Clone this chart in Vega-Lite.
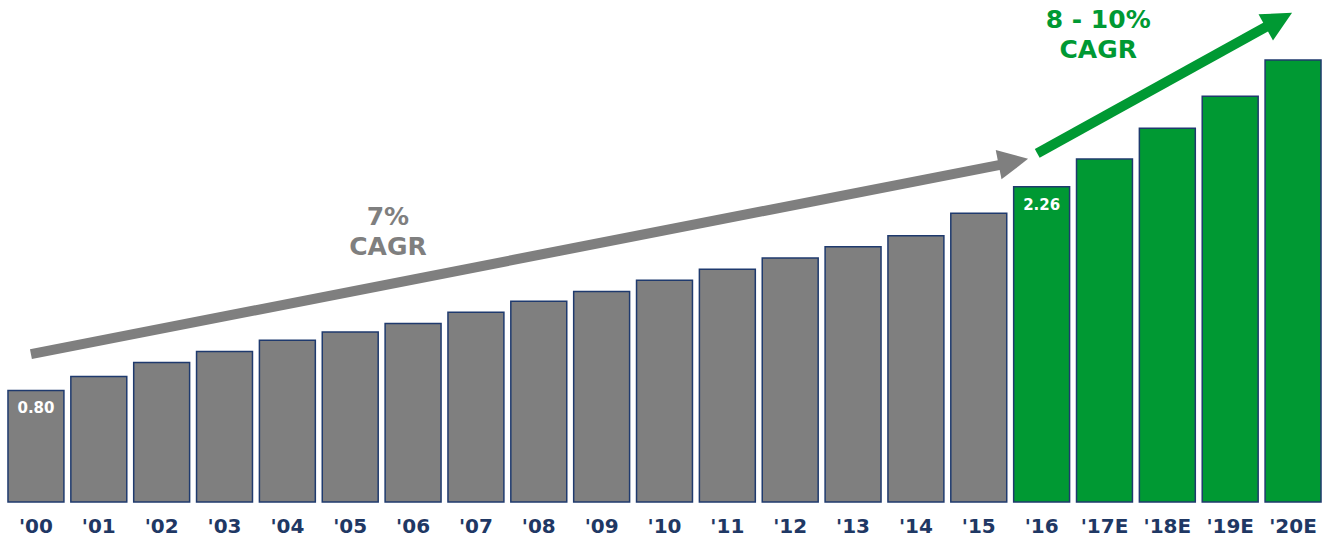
{
  "$schema": "https://vega.github.io/schema/vega-lite/v6.json",
  "width": 1329,
  "height": 502,
  "autosize": "none",
  "padding": {"left": 0, "top": 0, "right": 0, "bottom": 42},
  "background": "white",
  "config": {"view": {"stroke": null}, "font": "DejaVu Sans"},
  "layer": [
    {
      "data": {
        "values": [
          {"year": "'00", "value": 0.80, "phase": "actual"},
          {"year": "'01", "value": 0.90, "phase": "actual"},
          {"year": "'02", "value": 1.00, "phase": "actual"},
          {"year": "'03", "value": 1.08, "phase": "actual"},
          {"year": "'04", "value": 1.16, "phase": "actual"},
          {"year": "'05", "value": 1.22, "phase": "actual"},
          {"year": "'06", "value": 1.28, "phase": "actual"},
          {"year": "'07", "value": 1.36, "phase": "actual"},
          {"year": "'08", "value": 1.44, "phase": "actual"},
          {"year": "'09", "value": 1.51, "phase": "actual"},
          {"year": "'10", "value": 1.59, "phase": "actual"},
          {"year": "'11", "value": 1.67, "phase": "actual"},
          {"year": "'12", "value": 1.75, "phase": "actual"},
          {"year": "'13", "value": 1.83, "phase": "actual"},
          {"year": "'14", "value": 1.91, "phase": "actual"},
          {"year": "'15", "value": 2.07, "phase": "actual"},
          {"year": "'16", "value": 2.26, "phase": "forecast"},
          {"year": "'17E", "value": 2.46, "phase": "forecast"},
          {"year": "'18E", "value": 2.68, "phase": "forecast"},
          {"year": "'19E", "value": 2.91, "phase": "forecast"},
          {"year": "'20E", "value": 3.17, "phase": "forecast"}
        ]
      },
      "encoding": {
        "x": {
          "field": "year",
          "type": "nominal",
          "sort": null,
          "scale": {"paddingInner": 0.11, "paddingOuter": 0.127},
          "axis": {
            "title": null,
            "domain": false,
            "ticks": false,
            "labelAngle": 0,
            "labelPadding": 14,
            "labelFont": "DejaVu Sans",
            "labelFontWeight": "bold",
            "labelFontSize": 20,
            "labelColor": "#1f3864"
          }
        },
        "y": {
          "field": "value",
          "type": "quantitative",
          "scale": {"domain": [0, 3.6], "nice": false},
          "axis": null
        }
      },
      "layer": [
        {
          "mark": {"type": "bar", "stroke": "#1f3a6e", "strokeWidth": 1.5},
          "encoding": {
            "fill": {
              "field": "phase",
              "type": "nominal",
              "scale": {"domain": ["actual", "forecast"], "range": ["#7f7f7f", "#009933"]},
              "legend": null
            }
          }
        },
        {
          "transform": [{"filter": "datum.year === \"'00\" || datum.year === \"'16\""}],
          "mark": {
            "type": "text",
            "dy": 18,
            "align": "center",
            "baseline": "middle",
            "fontSize": 15,
            "fontWeight": "bold",
            "color": "white"
          },
          "encoding": {
            "text": {"field": "value", "type": "quantitative", "format": ".2f"}
          }
        }
      ]
    },
    {
      "data": {
        "values": [
          {"phase": "actual", "x0": -0.08, "v0": 1.06, "x1": 15.36, "v1": 2.42},
          {"phase": "forecast", "x0": 15.93, "v0": 2.5, "x1": 19.62, "v1": 3.42}
        ]
      },
      "mark": {"type": "rule", "strokeWidth": 10, "strokeCap": "butt"},
      "encoding": {
        "x": {"field": "x0", "type": "quantitative", "scale": {"domain": [-0.572, 20.572], "nice": false, "zero": false}, "axis": null},
        "x2": {"field": "x1"},
        "y": {"field": "v0", "type": "quantitative", "scale": {"domain": [0, 3.6], "nice": false}, "axis": null},
        "y2": {"field": "v1"},
        "color": {
          "field": "phase",
          "type": "nominal",
          "scale": {"domain": ["actual", "forecast"], "range": ["#7f7f7f", "#009933"]},
          "legend": null
        }
      }
    },
    {
      "data": {"values": [{"phase": "actual", "hx": 15.55, "hv": 2.44}]},
      "mark": {
        "type": "point",
        "shape": "M-1,-1L1,0L-1,1Z",
        "filled": true,
        "opacity": 1,
        "size": 900,
        "angle": -11.1,
        "color": "#7f7f7f"
      },
      "encoding": {
        "x": {"field": "hx", "type": "quantitative", "scale": {"domain": [-0.572, 20.572], "nice": false, "zero": false}, "axis": null},
        "y": {"field": "hv", "type": "quantitative", "scale": {"domain": [0, 3.6], "nice": false}, "axis": null}
      }
    },
    {
      "data": {"values": [{"phase": "forecast", "hx": 19.775, "hv": 3.456}]},
      "mark": {
        "type": "point",
        "shape": "M-1,-1L1,0L-1,1Z",
        "filled": true,
        "opacity": 1,
        "size": 900,
        "angle": -28.8,
        "color": "#009933"
      },
      "encoding": {
        "x": {"field": "hx", "type": "quantitative", "scale": {"domain": [-0.572, 20.572], "nice": false, "zero": false}, "axis": null},
        "y": {"field": "hv", "type": "quantitative", "scale": {"domain": [0, 3.6], "nice": false}, "axis": null}
      }
    },
    {
      "data": {
        "values": [
          {"phase": "actual", "note": "7%\nCAGR", "nx": 5.6, "nv": 2.045},
          {"phase": "forecast", "note": "8 - 10%\nCAGR", "nx": 16.9, "nv": 3.455}
        ]
      },
      "mark": {
        "type": "text",
        "lineBreak": "\n",
        "lineHeight": 30,
        "align": "center",
        "baseline": "middle",
        "fontSize": 25,
        "fontWeight": "bold"
      },
      "encoding": {
        "x": {"field": "nx", "type": "quantitative", "scale": {"domain": [-0.572, 20.572], "nice": false, "zero": false}, "axis": null},
        "y": {"field": "nv", "type": "quantitative", "scale": {"domain": [0, 3.6], "nice": false}, "axis": null},
        "text": {"field": "note"},
        "color": {
          "field": "phase",
          "type": "nominal",
          "scale": {"domain": ["actual", "forecast"], "range": ["#7f7f7f", "#009933"]},
          "legend": null
        }
      }
    }
  ],
  "resolve": {"scale": {"x": "independent"}}
}
